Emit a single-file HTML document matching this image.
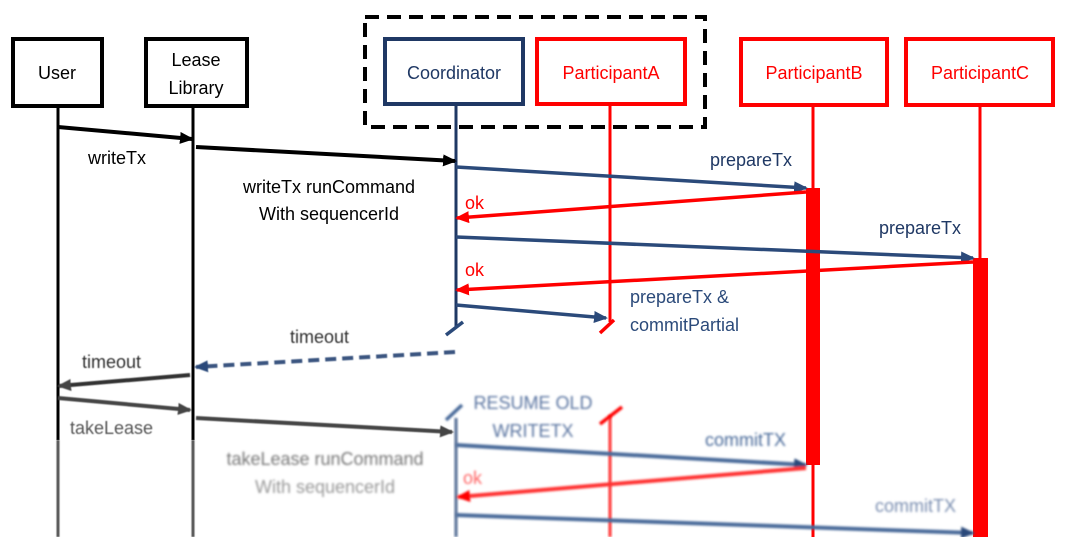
<!DOCTYPE html>
<html><head><meta charset="utf-8"><style>
html,body{margin:0;padding:0;background:#fff;width:1071px;height:537px;overflow:hidden}
text{font-family:"Liberation Sans",sans-serif;font-size:18px}
</style></head><body>
<svg width="1071" height="537" viewBox="0 0 1071 537" xmlns="http://www.w3.org/2000/svg">
<defs>
<marker id="ak" markerWidth="14" markerHeight="12" refX="12" refY="6" orient="auto" markerUnits="userSpaceOnUse"><path d="M0,0 L14,6 L0,12 z" fill="#000"/></marker>
<marker id="ag" markerWidth="14" markerHeight="12" refX="12" refY="6" orient="auto" markerUnits="userSpaceOnUse"><path d="M0,0 L14,6 L0,12 z" fill="#444"/></marker>
<marker id="an" markerWidth="14" markerHeight="12" refX="12" refY="6" orient="auto" markerUnits="userSpaceOnUse"><path d="M0,0 L14,6 L0,12 z" fill="#2b4a7a"/></marker>
<marker id="ar" markerWidth="14" markerHeight="12" refX="12" refY="6" orient="auto" markerUnits="userSpaceOnUse"><path d="M0,0 L14,6 L0,12 z" fill="#f00"/></marker>
<filter id="b1" x="-50%" y="-50%" width="200%" height="200%"><feGaussianBlur stdDeviation="0.6"/></filter>
<filter id="b2" x="-50%" y="-50%" width="200%" height="200%"><feGaussianBlur stdDeviation="1"/></filter>
</defs>

<rect x="365" y="17" width="340" height="110" fill="none" stroke="#000" stroke-width="4" stroke-dasharray="14,8"/>

<!-- lifelines -->
<rect x="56.5" y="107" width="3" height="333" fill="#000"/>
<rect x="56.5" y="440" width="3" height="97" fill="#555" filter="url(#b1)"/>
<rect x="191.5" y="107" width="3" height="333" fill="#000"/>
<rect x="191.5" y="440" width="3" height="97" fill="#555" filter="url(#b1)"/>
<line x1="456" y1="104" x2="456" y2="327" stroke="#1f3864" stroke-width="3"/>
<line x1="610" y1="106" x2="610" y2="322" stroke="#f00" stroke-width="3"/>
<line x1="813" y1="106" x2="813" y2="537" stroke="#f00" stroke-width="3"/>
<line x1="980" y1="106" x2="980" y2="537" stroke="#f00" stroke-width="3"/>
<rect x="454.5" y="418" width="3" height="119" fill="#2b4a7a" opacity="0.8" filter="url(#b2)"/>
<rect x="608.5" y="415" width="3" height="122" fill="#f00" opacity="0.8" filter="url(#b2)"/>
<rect x="806" y="188" width="14" height="277" fill="#f00"/>
<rect x="973" y="258" width="15" height="279" fill="#f00"/>

<!-- boxes -->
<rect x="13" y="39" width="89" height="67" fill="#fff" stroke="#000" stroke-width="4"/>
<text x="57" y="79" text-anchor="middle">User</text>
<rect x="146" y="39" width="101" height="67" fill="#fff" stroke="#000" stroke-width="4"/>
<text x="196" y="66" text-anchor="middle">Lease</text>
<text x="196" y="94" text-anchor="middle">Library</text>
<rect x="385" y="39" width="138" height="65" fill="#fff" stroke="#1f3864" stroke-width="4"/>
<text x="454" y="79" text-anchor="middle" fill="#1f3864">Coordinator</text>
<rect x="537" y="39" width="148" height="65" fill="#fff" stroke="#f00" stroke-width="4"/>
<text x="611" y="79" text-anchor="middle" fill="#f00">ParticipantA</text>
<rect x="741" y="39" width="146" height="66" fill="#fff" stroke="#f00" stroke-width="4"/>
<text x="814" y="79" text-anchor="middle" fill="#f00">ParticipantB</text>
<rect x="906" y="39" width="147" height="66" fill="#fff" stroke="#f00" stroke-width="4"/>
<text x="980" y="79" text-anchor="middle" fill="#f00">ParticipantC</text>

<!-- messages -->
<line x1="58" y1="127" x2="192" y2="139" stroke="#000" stroke-width="4" marker-end="url(#ak)"/>
<text x="88" y="164">writeTx</text>
<line x1="196" y1="147" x2="455" y2="161" stroke="#000" stroke-width="4" marker-end="url(#ak)"/>
<text x="329" y="193" text-anchor="middle">writeTx runCommand</text>
<text x="329" y="220" text-anchor="middle">With sequencerId</text>

<line x1="456" y1="167" x2="806" y2="188" stroke="#2b4a7a" stroke-width="3.5" marker-end="url(#an)"/>
<text x="710" y="166" fill="#1f3864">prepareTx</text>
<line x1="806" y1="192" x2="457" y2="218" stroke="#f00" stroke-width="3.5" marker-end="url(#ar)"/>
<text x="465" y="209" fill="#f00">ok</text>
<line x1="456" y1="237" x2="973" y2="258" stroke="#2b4a7a" stroke-width="3.5" marker-end="url(#an)"/>
<text x="879" y="234" fill="#1f3864">prepareTx</text>
<line x1="973" y1="262" x2="457" y2="290" stroke="#f00" stroke-width="3.5" marker-end="url(#ar)"/>
<text x="465" y="276" fill="#f00">ok</text>
<line x1="456" y1="305" x2="606" y2="318" stroke="#2b4a7a" stroke-width="3.5" marker-end="url(#an)"/>
<text x="630" y="303" fill="#2b4a7a">prepareTx &amp;</text>
<text x="630" y="331" fill="#2b4a7a">commitPartial</text>
<line x1="446" y1="335" x2="463" y2="322" stroke="#2b4a7a" stroke-width="3.5"/>
<line x1="600" y1="333" x2="614" y2="320" stroke="#f00" stroke-width="3.5"/>

<g filter="url(#b1)">
<text x="290" y="343" fill="#333">timeout</text>
<line x1="455" y1="352" x2="196" y2="367" stroke="#3a5580" stroke-width="4" stroke-dasharray="11,6" marker-end="url(#an)"/>
<text x="82" y="368" fill="#333">timeout</text>
<line x1="190" y1="375" x2="59" y2="386" stroke="#333" stroke-width="4" marker-end="url(#ag)"/>
<line x1="58" y1="398" x2="190" y2="410" stroke="#444" stroke-width="4" marker-end="url(#ag)"/>
<text x="70" y="434" fill="#555">takeLease</text>
<line x1="196" y1="418" x2="452" y2="432" stroke="#444" stroke-width="4" marker-end="url(#ag)"/>
</g>
<g filter="url(#b2)">
<text x="325" y="465" text-anchor="middle" fill="#777">takeLease runCommand</text>
<text x="325" y="493" text-anchor="middle" fill="#999">With sequencerId</text>
<line x1="446" y1="420" x2="462" y2="405" stroke="#4a6a9a" stroke-width="3.5"/>
<line x1="600" y1="424" x2="622" y2="407" stroke="#f00" stroke-width="3.5"/>
<text x="533" y="409" text-anchor="middle" fill="#5a74a0">RESUME OLD</text>
<text x="533" y="437" text-anchor="middle" fill="#5a74a0">WRITETX</text>
<line x1="456" y1="445" x2="806" y2="465" stroke="#4a6a9a" stroke-width="4" marker-end="url(#an)"/>
<text x="705" y="446" fill="#4a6a9a">commitTX</text>
<line x1="806" y1="468" x2="458" y2="497" stroke="#f33" stroke-width="4" marker-end="url(#ar)"/>
<text x="463" y="484" fill="#f66">ok</text>
<line x1="456" y1="515" x2="973" y2="533" stroke="#4a6a9a" stroke-width="4" marker-end="url(#an)"/>
<text x="875" y="512" fill="#7a8eb0">commitTX</text>
</g>
</svg>
</body></html>
